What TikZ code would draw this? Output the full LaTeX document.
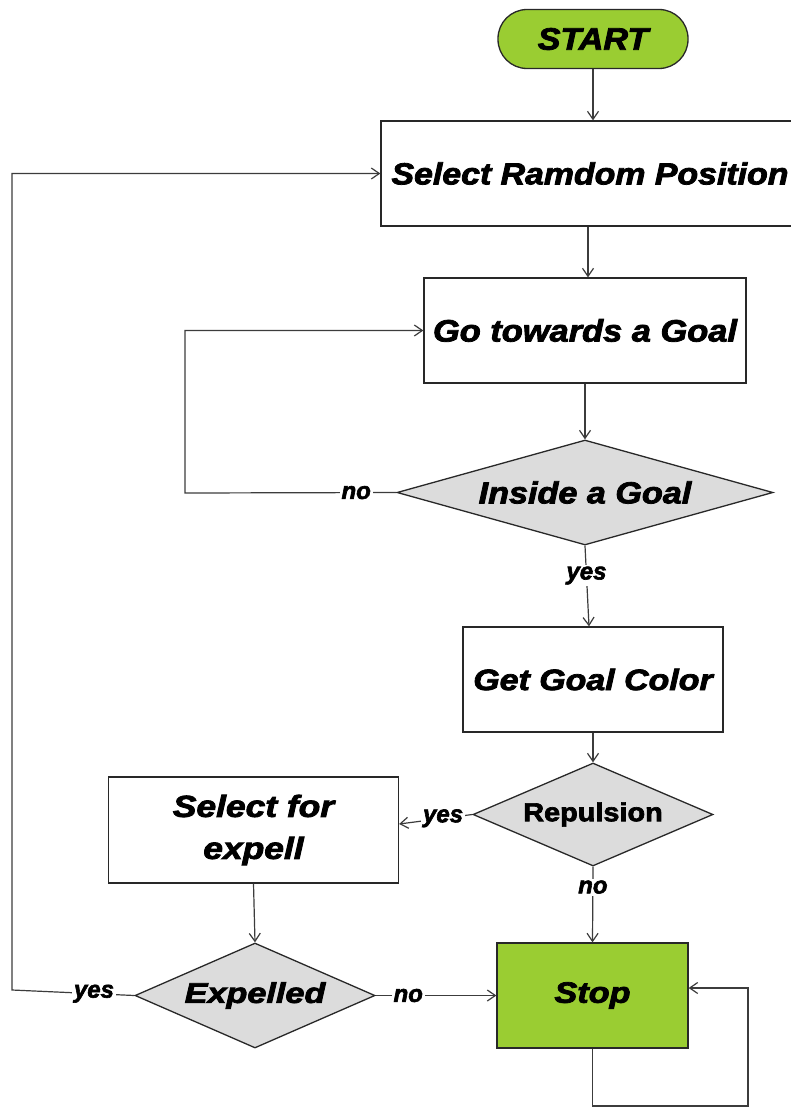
\documentclass[tikz,border=0pt]{standalone}
\usepackage{fontspec}
\setmainfont{Liberation Sans}
\newfontfamily\hvbi[FakeBold=2.5]{Liberation Sans Bold Italic}
\newfontfamily\hvb[FakeBold=2.5]{Liberation Sans Bold}
\usetikzlibrary{shapes.geometric,arrows.meta,calc}
\definecolor{lgreen}{RGB}{154,205,50}
\definecolor{dgray}{RGB}{220,220,220}
\definecolor{lcol}{RGB}{60,60,60}
\definecolor{bcol}{RGB}{40,40,40}
\newcommand{\bt}[3]{\scalebox{#1}[1]{\fontsize{#2}{#2}\selectfont\hvbi #3}}
\tikzset{
  boxnode/.style={draw=bcol, line width=1.3pt, fill=white, inner sep=0pt, rectangle},
  termnode/.style={draw=bcol, line width=1.3pt, fill=lgreen, inner sep=0pt, rectangle, rounded corners=29pt},
  decnode/.style={diamond, draw=bcol, line width=1.3pt, fill=dgray, inner sep=0pt},
  arr/.style={draw=lcol, line width=1.2pt, -{Straight Barb[length=8pt,width=11pt]}},
  lbl/.style={fill=white, inner sep=2pt, font=\fontsize{24}{24}\selectfont\hvbi}
}
\begin{document}
\begin{tikzpicture}[x=1pt,y=-1pt]
\useasboundingbox (0,0) rectangle (791,1108);
\fill[white] (0,0) rectangle (791,1108);

\node[termnode, minimum width=190, minimum height=59] (start) at (593,39) {\bt{1.1}{31}{START}};
\node[boxnode, minimum width=418, minimum height=105] (sel) at (590,173.5) {\bt{1.11}{30.5}{Select Ramdom Position}};
\node[boxnode, minimum width=322, minimum height=105] (go) at (585,330.5) {\bt{1.11}{31}{Go towards a Goal}};
\node[decnode, minimum width=376, minimum height=105, aspect=3.58] (ins) at (585,492.5) {\bt{1.12}{30.5}{Inside a Goal}};
\node[boxnode, minimum width=260, minimum height=105] (gc) at (593,679.5) {\bt{1.15}{29.5}{Get Goal Color}};
\node[decnode, minimum width=240, minimum height=103, aspect=2.33] (rep) at (593,814.5) {\scalebox{1.11}[1]{\fontsize{26}{26}\selectfont\hvb Repulsion}};
\node[boxnode, minimum width=290, minimum height=106, align=center, font=\fontsize{30}{42}\selectfont] (sfe) at (253.5,830) {\bt{1.16}{30.5}{Select for}\\\bt{1.16}{30.5}{expell}};
\node[decnode, minimum width=240, minimum height=105, aspect=2.29] (exp) at (255,995.5) {\bt{1.2}{28.5}{Expelled}};
\node[boxnode, fill=lgreen, minimum width=191, minimum height=105] (stop) at (592.5,995.5) {\bt{1.16}{29.5}{Stop}};

\coordinate (nl) at (185,493);
\coordinate (lc) at (12,990);
\coordinate (lp1) at (593,1106);
\coordinate (lp2) at (748,988);

\draw[arr] (start.south) -- (start.south |- sel.north);
\draw[arr] ($(sel.south)+(-2,0)$) -- ($(go.north)+(3,0)$);
\draw[arr] (go.south) -- (ins.north);
\draw[arr] (ins.south) -- node[lbl,pos=0.37]{yes} ($(gc.north)+(-4,0)$);
\draw[arr] (ins.west) -- node[lbl,pos=0.19]{no} (nl) |- (go.west);
\draw[arr] (gc.south) -- (rep.north);
\draw[arr] (rep.west) -- node[lbl,pos=0.4]{yes} ($(sfe.east)+(0,-6)$);
\draw[arr] (rep.south) -- node[lbl,pos=0.27]{no} (stop.north);
\draw[arr] (sfe.south) -- (exp.north);
\draw[arr] (exp.west) -- node[lbl,pos=0.33]{yes} (lc) |- (sel.west);
\draw[arr] (exp.east) -- node[lbl,pos=0.27]{no} (stop.west);
\draw[arr] (stop.south) -- (stop.south |- lp1) -| (lp2) -- (lp2 -| stop.east);
\end{tikzpicture}
\end{document}
